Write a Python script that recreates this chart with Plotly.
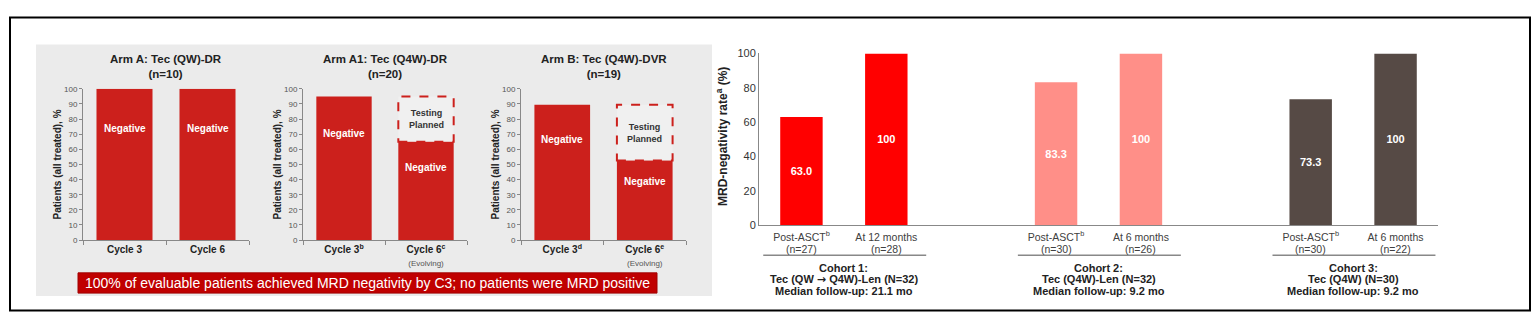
import plotly.graph_objects as go

W, H = 1540, 328


def px(x):
    return x / W


def py(y):
    return 1 - y / H


# ---------------- data: left panels ----------------
arm_titles = ["Arm A: Tec (QW)-DR", "Arm A1: Tec (Q4W)-DR", "Arm B: Tec (Q4W)-DVR"]
arm_n = [10, 20, 19]
arm_cycles = [["Cycle 3", "Cycle 6"],
              ["Cycle 3<sup>b</sup>", "Cycle 6<sup>c</sup>"],
              ["Cycle 3<sup>d</sup>", "Cycle 6<sup>e</sup>"]]
arm_evolving = [[False, False], [False, True], [False, True]]
arm_negative = [[100, 100], [95, 65], [89.5, 52.6]]
arm_planned = [[None, None], [None, 95], [None, 89.5]]
left_yticks = list(range(0, 101, 10))
banner_text = "100% of evaluable patients achieved MRD negativity by C3; no patients were MRD positive"

# ---------------- data: right chart ----------------
cohort_titles = ["Cohort 1:", "Cohort 2:", "Cohort 3:"]
cohort_regimens = ["Tec (QW <span style='font-family:DejaVu Sans'>\u2192</span> Q4W)-Len (N=32)",
                   "Tec (Q4W)-Len (N=32)", "Tec (Q4W) (N=30)"]
cohort_followup = ["Median follow-up: 21.1 mo", "Median follow-up: 9.2 mo", "Median follow-up: 9.2 mo"]
cohort_timepoints = [["Post-ASCT<sup>b</sup>", "At 12 months"],
                     ["Post-ASCT<sup>b</sup>", "At 6 months"],
                     ["Post-ASCT<sup>b</sup>", "At 6 months"]]
cohort_n = [[27, 28], [30, 26], [30, 22]]
cohort_rates = [[63.0, 100], [83.3, 100], [73.3, 100]]
right_yticks = [0, 20, 40, 60, 80, 100]

# ---------------- styles ----------------
FONT = "Liberation Sans, Arial, sans-serif"
BAR_RED = "#cc201c"
BANNER_RED = "#c00000"
PANEL_GRAY = "#ebebeb"
cohort_colors = ["#ff0000", "#ff8f88", "#564a45"]

left_x_px = [(83, 249), (303, 467), (521, 686)]
left_y_px = (86, 243)
right_x_px = (759, 1438)
right_y_px = (49.3, 227.3)
LEFT_W = 0.675
RIGHT_W = 0.5

fig = go.Figure()
shapes = []
annotations = []

# background gray panel + border
shapes.append(dict(type="rect", xref="paper", yref="paper", x0=px(36), x1=px(712), y0=py(301), y1=py(40),
                   fillcolor=PANEL_GRAY, line=dict(width=0), layer="below"))
shapes.append(dict(type="rect", xref="paper", yref="paper", x0=px(10), x1=px(1530), y0=py(316), y1=py(12),
                   fillcolor="rgba(0,0,0,0)", line=dict(color="black", width=2), layer="above"))

layout_axes = {}
for i in range(3):
    ax = "" if i == 0 else str(i + 1)
    xname, yname = "x" + ax, "y" + ax
    cats = []
    for j in range(2):
        lab = "<b>" + arm_cycles[i][j] + "</b>"
        if arm_evolving[i][j]:
            lab += "<br><span style='font-size:8px;color:#555555'>(Evolving)</span>"
        cats.append(lab)
    fig.add_trace(go.Bar(x=cats, y=arm_negative[i], xaxis=xname, yaxis=yname, width=LEFT_W,
                         marker=dict(color=BAR_RED, line=dict(width=0)), showlegend=False,
                         hoverinfo="skip"))
    x0p, x1p = left_x_px[i]
    layout_axes["xaxis" + ax] = dict(domain=[px(x0p), px(x1p)], anchor=yname, type="category",
                                     categoryorder="array", categoryarray=cats, range=[-0.5, 1.5],
                                     showline=True, linecolor="#888888", linewidth=1,
                                     ticks="outside", ticklen=4, tickcolor="#888888", tickson="boundaries",
                                     tickfont=dict(size=10, color="#222222", family=FONT),
                                     showgrid=False, zeroline=False, fixedrange=True)
    layout_axes["yaxis" + ax] = dict(domain=[py(left_y_px[1]), py(left_y_px[0])], anchor=xname,
                                     range=[0, 100], tickvals=left_yticks, showline=True,
                                     linecolor="#888888", linewidth=1, ticks="outside", ticklen=3,
                                     tickcolor="#888888", tickfont=dict(size=8, color="#555555", family=FONT),
                                     showgrid=False, zeroline=False, fixedrange=True)
    # titles
    cx = (x0p + x1p) / 2
    annotations.append(dict(xref="paper", yref="paper", x=px(cx), y=py(63), showarrow=False,
                            text="<b>%s<br>(n=%d)</b>" % (arm_titles[i], arm_n[i]),
                            font=dict(size=11.5, color="#222222", family=FONT), xanchor="center", yanchor="middle"))
    # y title
    annotations.append(dict(xref="paper", yref="paper", x=px(x0p - 26), y=py((left_y_px[0] + left_y_px[1]) / 2),
                            showarrow=False, textangle=-90, text="<b>Patients (all treated), %</b>",
                            font=dict(size=10, color="#222222", family=FONT), xanchor="center", yanchor="middle"))
    for j in range(2):
        v = arm_negative[i][j]
        annotations.append(dict(xref=xname, yref=yname, x=j, y=v * 0.74, showarrow=False,
                                text="<b>Negative</b>", font=dict(size=10, color="white", family=FONT),
                                xanchor="center", yanchor="middle"))
        p = arm_planned[i][j]
        if p is not None:
            shapes.append(dict(type="rect", xref=xname, yref=yname, x0=j - LEFT_W / 2, x1=j + LEFT_W / 2,
                               y0=v, y1=p, fillcolor="rgba(255,255,255,0.25)",
                               line=dict(color=BAR_RED, width=2, dash="dash"), layer="above"))
            annotations.append(dict(xref=xname, yref=yname, x=j, y=(v + p) / 2, showarrow=False,
                                    text="<b>Testing<br>Planned</b>",
                                    font=dict(size=9, color="#333333", family=FONT),
                                    xanchor="center", yanchor="middle"))

# banner
shapes.append(dict(type="rect", xref="paper", yref="paper", x0=px(78), x1=px(657), y0=py(298), y1=py(277),
                   fillcolor=BANNER_RED, line=dict(color="#a00000", width=1), layer="above"))
annotations.append(dict(xref="paper", yref="paper", x=px((78 + 657) / 2), y=py(287.5), showarrow=False,
                        text=banner_text, font=dict(size=14, color="white", family=FONT),
                        xanchor="center", yanchor="middle"))

# ---------------- right chart ----------------
tickvals, ticktext = [], []
for i in range(3):
    xs = [3 * i + j for j in range(2)]
    labels = [("%.1f" % v) if v < 100 else ("%.0f" % v) for v in cohort_rates[i]]
    fig.add_trace(go.Bar(x=xs, y=cohort_rates[i], xaxis="x4", yaxis="y4", width=RIGHT_W,
                         marker=dict(color=cohort_colors[i], line=dict(width=0)),
                         text=["<b>%s</b>" % t for t in labels], textposition="inside",
                         insidetextanchor="middle", textangle=0,
                         textfont=dict(size=11, color="white", family=FONT),
                         showlegend=False, hoverinfo="skip"))
    for j in range(2):
        tickvals.append(xs[j])
        ticktext.append(cohort_timepoints[i][j])
        annotations.append(dict(xref="x4", yref="paper", x=xs[j], y=py(252.5), showarrow=False,
                                text="(n=%d)" % cohort_n[i][j],
                                font=dict(size=10.5, color="#404040", family=FONT),
                                xanchor="center", yanchor="middle"))
    center = 3 * i + 0.5
    shapes.append(dict(type="line", xref="x4", yref="paper", x0=center - 0.95, x1=center + 0.97,
                       y0=py(258.7), y1=py(258.7), line=dict(color="#888888", width=1.5)))
    for k, (txt, ypx) in enumerate(zip([cohort_titles[i], cohort_regimens[i], cohort_followup[i]],
                                        [271.5, 283.5, 295.5])):
        annotations.append(dict(xref="x4", yref="paper", x=center, y=py(ypx), showarrow=False,
                                text="<b>%s</b>" % txt, font=dict(size=11, color="#222222", family=FONT),
                                xanchor="center", yanchor="middle"))

layout_axes["xaxis4"] = dict(domain=[px(right_x_px[0]), px(right_x_px[1])], anchor="y4",
                             range=[-0.5, 7.5], tickvals=tickvals, ticktext=ticktext, ticks="",
                             ticklabelstandoff=2,
                             showline=True, linecolor="#888888", linewidth=1,
                             tickfont=dict(size=10.5, color="#404040", family=FONT),
                             showgrid=False, zeroline=False, fixedrange=True)
layout_axes["yaxis4"] = dict(domain=[py(right_y_px[1]), py(right_y_px[0])], anchor="x4",
                             range=[0, 100], tickvals=right_yticks, ticks="",
                             showline=True, linecolor="#888888", linewidth=1,
                             tickfont=dict(size=11, color="#333333", family=FONT),
                             showgrid=False, zeroline=False, fixedrange=True)
annotations.append(dict(xref="paper", yref="paper", x=px(722), y=py(136), showarrow=False, textangle=-90,
                        text="<b>MRD-negativity rate<sup>a</sup> (%)</b>",
                        font=dict(size=12, color="#222222", family=FONT), xanchor="center", yanchor="middle"))

fig.update_layout(width=W, height=H, margin=dict(l=0, r=0, t=0, b=0), autosize=False,
                  paper_bgcolor="white", plot_bgcolor="rgba(0,0,0,0)", barmode="overlay",
                  font=dict(family=FONT), shapes=shapes, annotations=annotations, **layout_axes)

fig.write_html("out.html")
